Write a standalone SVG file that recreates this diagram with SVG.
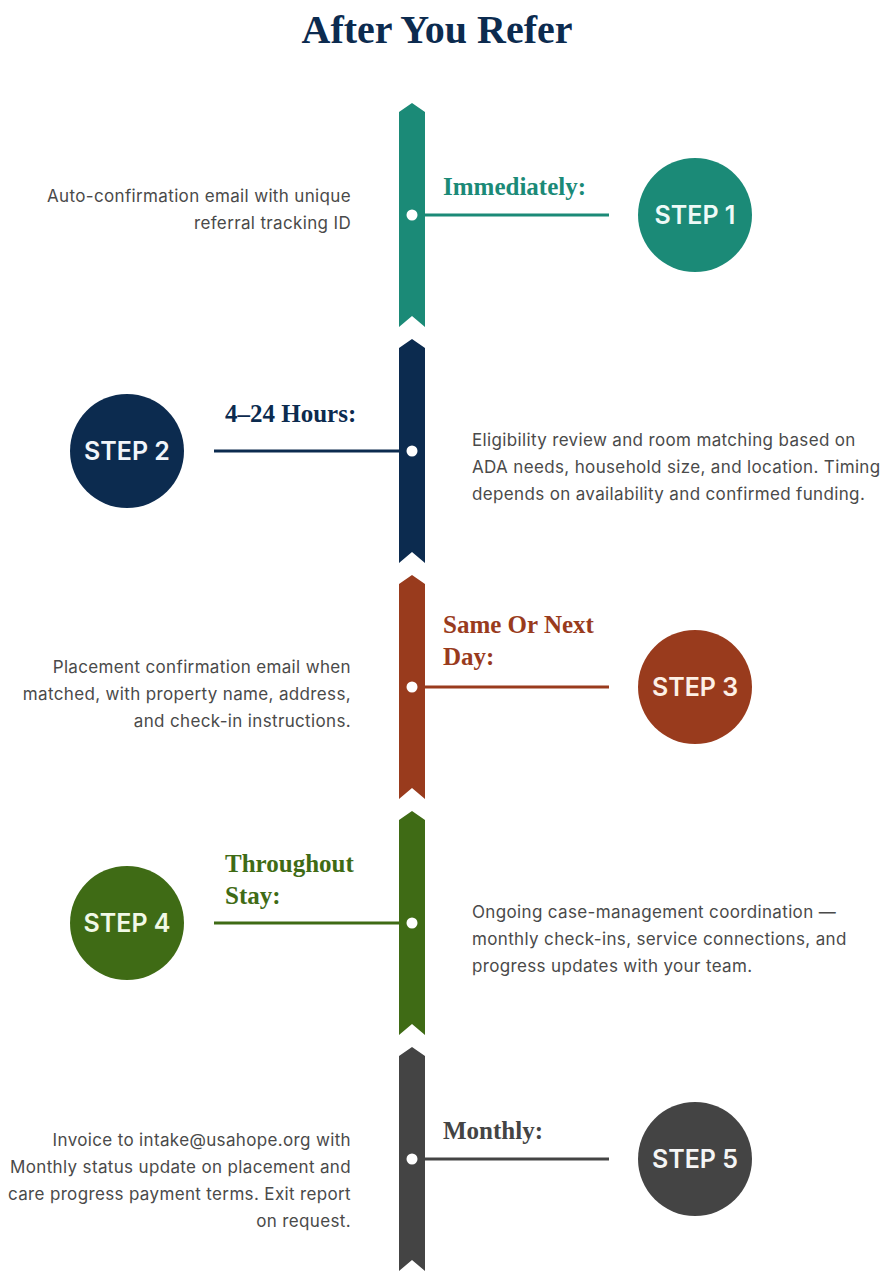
<svg xmlns="http://www.w3.org/2000/svg" width="884" height="1271" viewBox="0 0 884 1271">
<style>
.title{font-family:"Liberation Serif","DejaVu Serif",serif;font-weight:bold;font-size:40px;fill:#0c2b4f}
.lbl{font-family:"Liberation Serif","DejaVu Serif",serif;font-weight:bold;font-size:25px}
.body{font-family:Inter,"Liberation Sans",sans-serif;font-size:17px;letter-spacing:0.35px;fill:#4a4a4a}
.r{text-anchor:end}
.step{font-family:Inter,"Liberation Sans",sans-serif;font-size:25px;font-weight:600;text-anchor:middle}
.dot{fill:#ffffff}
.ln{stroke-width:3;fill:none}
</style>
<rect width="884" height="1271" fill="#ffffff"/>
<text class="title" x="437" y="43" text-anchor="middle">After You Refer</text>

<g id="connectors">
  <line class="ln" x1="425" y1="215" x2="609" y2="215" stroke="#1b8a77"/>
  <line class="ln" x1="214" y1="451" x2="399" y2="451" stroke="#0c2b4f"/>
  <line class="ln" x1="425" y1="687" x2="609" y2="687" stroke="#993b1d"/>
  <line class="ln" x1="214" y1="923" x2="399" y2="923" stroke="#3f6b15"/>
  <line class="ln" x1="425" y1="1159" x2="609" y2="1159" stroke="#444444"/>
</g>

<g id="step1">
  <path d="M399,112 L412,103 L425,112 L425,327 L412,316 L399,327 Z" fill="#1b8a77"/>
  <circle class="dot" cx="412" cy="215" r="5.5"/>
  <text class="lbl" x="443" y="195" fill="#1b8a77">Immediately:</text>
  <text class="body r" x="351" y="202">Auto-confirmation email with unique</text>
  <text class="body r" x="351" y="229">referral tracking ID</text>
  <circle cx="695" cy="215" r="57" fill="#1b8a77"/>
  <text class="step" x="695" y="224" fill="#eefaf7">STEP 1</text>
</g>

<g id="step2">
  <path d="M399,348 L412,339 L425,348 L425,563 L412,552 L399,563 Z" fill="#0c2b4f"/>
  <circle class="dot" cx="412" cy="451" r="5.5"/>
  <text class="lbl" x="225" y="422" fill="#0c2b4f">4–24 Hours:</text>
  <text class="body" x="472" y="446">Eligibility review and room matching based on</text>
  <text class="body" x="472" y="473">ADA needs, household size, and location. Timing</text>
  <text class="body" x="472" y="500">depends on availability and confirmed funding.</text>
  <circle cx="127" cy="451" r="57" fill="#0c2b4f"/>
  <text class="step" x="127" y="460" fill="#f2f5fa">STEP 2</text>
</g>

<g id="step3">
  <path d="M399,584 L412,575 L425,584 L425,799 L412,788 L399,799 Z" fill="#993b1d"/>
  <circle class="dot" cx="412" cy="687" r="5.5"/>
  <text class="lbl" x="443" y="633" fill="#993b1d">Same Or Next</text>
  <text class="lbl" x="443" y="665" fill="#993b1d">Day:</text>
  <text class="body r" x="351" y="673">Placement confirmation email when</text>
  <text class="body r" x="351" y="700">matched, with property name, address,</text>
  <text class="body r" x="351" y="727">and check-in instructions.</text>
  <circle cx="695" cy="687" r="57" fill="#993b1d"/>
  <text class="step" x="695" y="696" fill="#fdf0e6">STEP 3</text>
</g>

<g id="step4">
  <path d="M399,820 L412,811 L425,820 L425,1035 L412,1024 L399,1035 Z" fill="#3f6b15"/>
  <circle class="dot" cx="412" cy="923" r="5.5"/>
  <text class="lbl" x="225" y="872" fill="#3f6b15">Throughout</text>
  <text class="lbl" x="225" y="904" fill="#3f6b15">Stay:</text>
  <text class="body" x="472" y="918">Ongoing case-management coordination —</text>
  <text class="body" x="472" y="945">monthly check-ins, service connections, and</text>
  <text class="body" x="472" y="972">progress updates with your team.</text>
  <circle cx="127" cy="923" r="57" fill="#3f6b15"/>
  <text class="step" x="127" y="932" fill="#f1f9e6">STEP 4</text>
</g>

<g id="step5">
  <path d="M399,1056 L412,1047 L425,1056 L425,1271 L412,1260 L399,1271 Z" fill="#444444"/>
  <circle class="dot" cx="412" cy="1159" r="5.5"/>
  <text class="lbl" x="443" y="1139" fill="#444444">Monthly:</text>
  <text class="body r" x="351" y="1146">Invoice to intake@usahope.org with</text>
  <text class="body r" x="351" y="1173">Monthly status update on placement and</text>
  <text class="body r" x="351" y="1200">care progress payment terms. Exit report</text>
  <text class="body r" x="351" y="1227">on request.</text>
  <circle cx="695" cy="1159" r="57" fill="#444444"/>
  <text class="step" x="695" y="1168" fill="#f5f5f5">STEP 5</text>
</g>
</svg>
